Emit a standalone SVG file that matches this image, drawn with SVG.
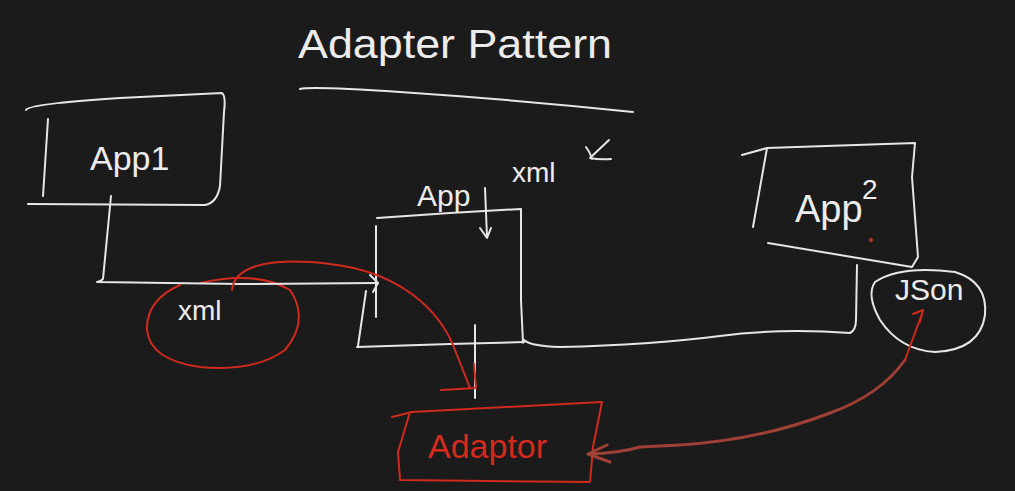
<svg xmlns="http://www.w3.org/2000/svg" width="1015" height="491" viewBox="0 0 1015 491">
<style>
.w{fill:none;stroke:#e6e6e6;stroke-width:2;stroke-linecap:round;stroke-linejoin:round}
.r{fill:none;stroke:#d02a1f;stroke-width:2;stroke-linecap:round;stroke-linejoin:round}
.b{fill:none;stroke:#9e4035;stroke-width:3;stroke-linecap:round;stroke-linejoin:round}
.t{font-family:"Liberation Sans",Arial,sans-serif;fill:#ececec}
.tr{font-family:"Liberation Sans",Arial,sans-serif;fill:#d42a1e}
</style>
<rect width="1015" height="491" fill="#1b1b1b"/>
<g id="title">
<text class="t" x="298" y="58" font-size="40" textLength="314" lengthAdjust="spacingAndGlyphs">Adapter  Pattern</text>
<path class="w" d="M300,89 Q310,86 400,92 Q520,100 633,112"/>
</g>
<g id="app1">
<path class="w" d="M26,110 Q28,104 120,98 L222,93 Q226,96 224,112 L220,186 Q217,203 205,205 L28,204"/>
<path class="w" d="M48,119 L43,196"/>
<text class="t" x="90" y="170" font-size="34">App1</text>
</g>
<g id="app">
<path class="w" d="M377,218 L450,213 L521,209 L521,300 L523,343 M357,347 L450,344 L524,342 M376,226 L376,317 M366,291 L358,346"/>
<text class="t" x="417" y="206" font-size="30">App</text>
<text class="t" x="512" y="182" font-size="28">xml</text>
<path class="w" d="M586,147 Q590,152 592,159 M609,140 L590,158 Q600,160 611,159"/>
</g>
<g id="app2">
<path class="w" d="M742,155 L767,148 L915,143 L912,177 L918,257 L912,267 L768,243 M767,148 L753,227"/>
<text class="t" x="795" y="222" font-size="38">App</text>
<text class="t" x="862" y="199" font-size="28">2</text>
<circle cx="871" cy="240" r="2" fill="#c0302a"/>
</g>
<g id="json">
<path class="w" d="M875,282 Q900,265 955,272 Q988,282 985,315 Q980,350 935,352 Q900,350 880,320 Q866,295 875,282 Z"/>
<text class="t" x="895" y="300" font-size="30">JSon</text>
</g>
<g id="xml">
<path class="r" d="M200,283 Q255,270 290,290 Q310,320 285,350 Q255,372 200,367 Q150,360 147,330 Q146,300 180,285"/>
<text class="t" x="178" y="320" font-size="28">xml</text>
</g>
<g id="adaptor">
<path class="r" d="M392,417 L412,412 L602,402 L593,447 L590,482 L400,480 M410,412 L398,452 L400,480"/>
<text class="tr" x="428" y="458" font-size="34">Adaptor</text>
</g>
<g id="connectors">
<path class="w" d="M111,196 L103,279 Q100,282 97,282 L240,284 L378,283"/>
<path class="w" d="M370,275 L378,283 L373,292"/>
<path class="w" d="M485,188 L487,237 M480,228 L487,238 L491,228"/>
<path class="w" d="M475,325 L475,398"/>
<path class="w" d="M524,340 Q530,346 560,347 Q650,345 720,336 Q780,328 850,333 Q856,330 856,320 L857,265"/>
<path class="r" d="M232,290 C235,262 280,258 330,264 C400,272 440,310 455,350 L470,388"/>
<path class="r" d="M441,390 L476,388 L474,364"/>
<path class="b" d="M905,360 Q880,395 830,413 Q760,440 680,445 L640,447 Q620,453 588,454 M607,445 L588,454 L610,462"/>
<path class="r" d="M905,360 L923,311 M913,314 L923,310 L920,322"/>
</g>
</svg>
